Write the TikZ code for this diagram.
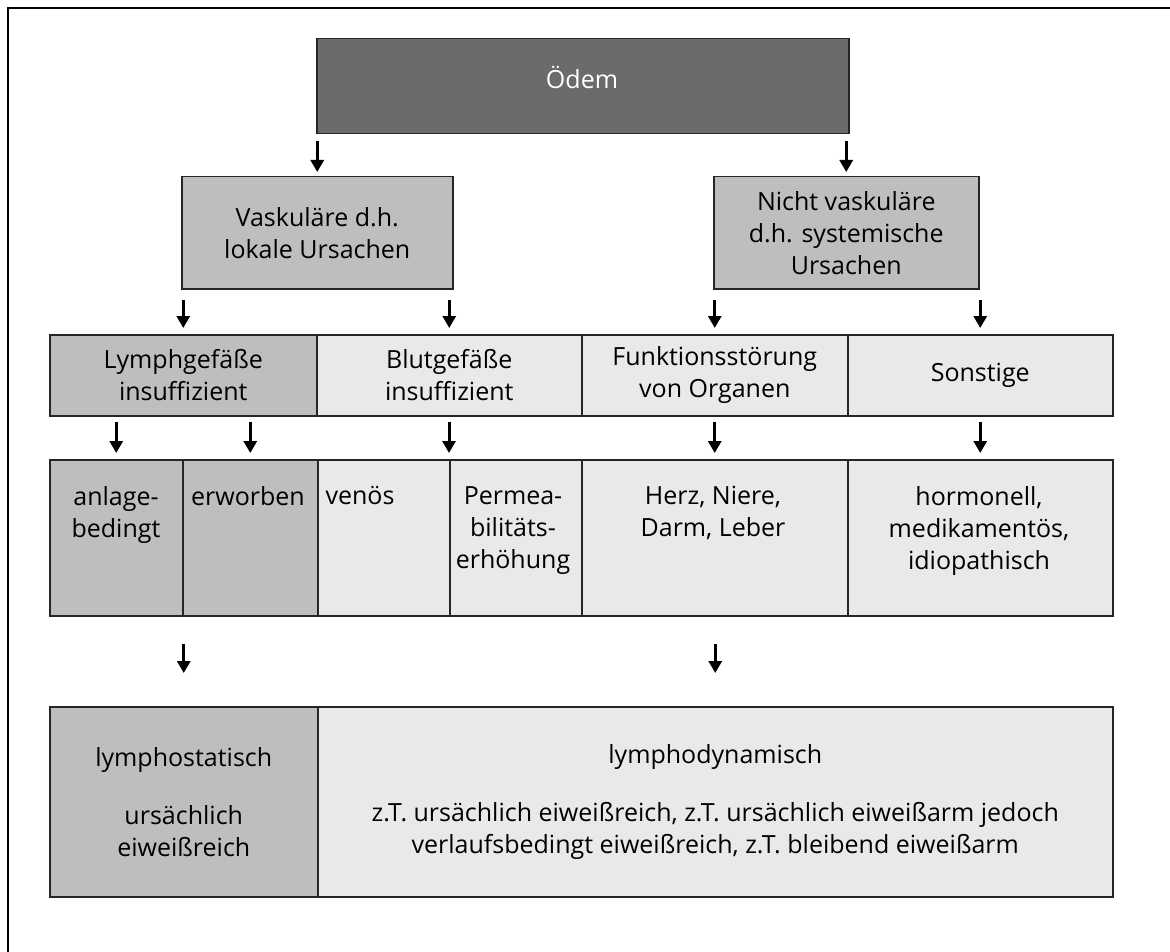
\documentclass[tikz,border=0pt]{standalone}
\usepackage{fontspec}
\setmainfont{Open Sans}
\usetikzlibrary{arrows.meta}
\definecolor{dk}{HTML}{6B6B6B}
\definecolor{md}{HTML}{BEBEBE}
\definecolor{lt}{HTML}{E9E9E9}
\newcommand\diagfont{\fontsize{25}{32}\selectfont}
\begin{document}
\begin{tikzpicture}[x=1pt,y=-1pt,
  box/.style={draw=black!85,line width=1.5pt,inner sep=0pt,anchor=north west,align=center,font=\diagfont},
  darkbox/.style={box,fill=dk},
  midbox/.style={box,fill=md},
  lightbox/.style={box,fill=lt},
  txt/.style={align=center,inner sep=0pt,font=\diagfont,anchor=north},
  arr/.style={line width=3pt,-{Triangle[width=13pt,length=12pt]}},
]
\useasboundingbox (0,0) rectangle (1170,952);
\draw[line width=2pt] (1170,8) -- (8,8) -- (8,952);

% level 1
\node[darkbox,minimum width=532,minimum height=95] (oedem) at (316,38) {};
\node[txt,text=white,anchor=center] (oedemtxt) at (582,77) {Ödem};

% level 2
\node[midbox,minimum width=271,minimum height=112] (vask) at (181,176) {Vaskuläre d.h.\\lokale Ursachen};
\node[midbox,minimum width=265,minimum height=112] (nicht) at (713,176) {Nicht vaskuläre\\d.h. systemische\\Ursachen};

% level 3
\node[midbox,minimum width=267,minimum height=81] (lymph) at (49,334) {Lymphgefäße\\insuffizient};
\node[lightbox,minimum width=265,minimum height=81] (blut) at (316,334) {Blutgefäße\\insuffizient};
\node[lightbox,minimum width=266,minimum height=81] (funkt) at (581,334) {Funktionsstörung\\von Organen};
\node[lightbox,minimum width=265,minimum height=81] (sonst) at (847,334) {Sonstige};

% level 4
\node[midbox,minimum width=133,minimum height=156] (anlage) at (49,459) {};
\node[midbox,minimum width=135,minimum height=156] (erw) at (182,459) {};
\node[lightbox,minimum width=132,minimum height=156] (venoes) at (317,459) {};
\node[lightbox,minimum width=132,minimum height=156] (perm) at (449,459) {};
\node[lightbox,minimum width=266,minimum height=156] (herz) at (581,459) {};
\node[lightbox,minimum width=265,minimum height=156] (hormon) at (847,459) {};
\node[txt] (anlagetxt) at (116,486) {anlage-\\bedingt};
\node[txt] (erwtxt) at (248,486) {erworben};
\node[txt] (venoestxt) at (360,486) {venös};
\node[txt] (permtxt) at (513,486) {Permea-\\bilitäts-\\erhöhung};
\node[txt] (herztxt) at (713,486) {Herz, Niere,\\Darm, Leber};
\node[txt] (hormontxt) at (979,486) {hormonell,\\medikamentös,\\idiopathisch};

% level 5
\node[midbox,minimum width=268,minimum height=190] (lstat) at (49,706) {lymphostatisch\\[26pt]ursächlich\\eiweißreich};
\node[lightbox,minimum width=795,minimum height=190] (ldyn) at (317,706) {lymphodynamisch\\[26pt]z.T. ursächlich eiweißreich, z.T. ursächlich eiweißarm jedoch\\verlaufsbedingt eiweißreich, z.T. bleibend eiweißarm};

% arrows
\draw[arr,shorten <=7pt,shorten >=4pt] (vask.north |- oedem.south) -- (vask.north);
\draw[arr,shorten <=7pt,shorten >=4pt] (nicht.north |- oedem.south) -- (nicht.north);

\draw[arr,shorten <=10pt,shorten >=6pt] (lymph.north |- vask.south) -- (lymph.north);
\draw[arr,shorten <=10pt,shorten >=6pt] (blut.north |- vask.south) -- (blut.north);
\draw[arr,shorten <=10pt,shorten >=6pt] (funkt.north |- nicht.south) -- (funkt.north);
\draw[arr,shorten <=10pt,shorten >=6pt] (sonst.north |- nicht.south) -- (sonst.north);

\draw[arr,shorten <=5pt,shorten >=6pt] (anlage.north |- lymph.south) -- (anlage.north);
\draw[arr,shorten <=5pt,shorten >=6pt] (erw.north |- lymph.south) -- (erw.north);
\draw[arr,shorten <=5pt,shorten >=6pt] (perm.north west |- blut.south) -- (perm.north west);
\draw[arr,shorten <=5pt,shorten >=6pt] (herz.north |- funkt.south) -- (herz.north);
\draw[arr,shorten <=5pt,shorten >=6pt] (hormon.north |- sonst.south) -- (hormon.north);

\draw[arr,shorten <=27pt,shorten >=33pt] (lstat.north |- anlage.south) -- (lstat.north);
\draw[arr,shorten <=27pt,shorten >=33pt] (ldyn.north |- herz.south) -- (ldyn.north);
\end{tikzpicture}
\end{document}
